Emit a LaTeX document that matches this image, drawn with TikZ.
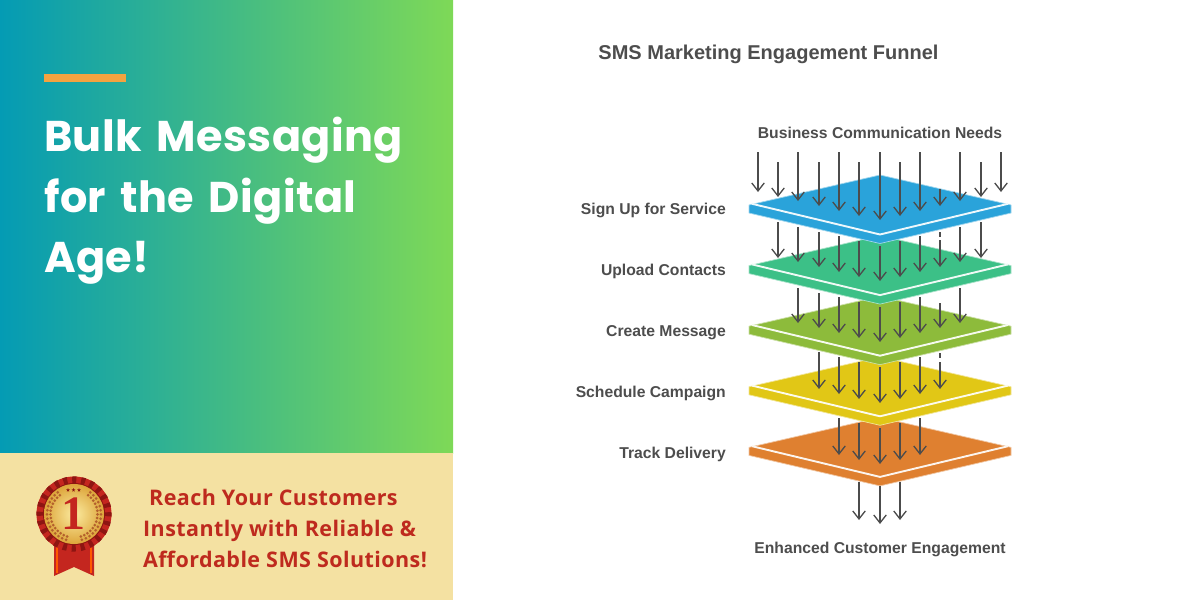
\documentclass[tikz,border=0pt]{standalone}
\usepackage{fontspec}
\usetikzlibrary{arrows.meta,shapes.geometric}
\setmainfont{Liberation Sans}
\newfontfamily\titlefont[LetterSpace=1,WordSpace=1.5]{Poppins}
\newfontfamily\promofont[LetterSpace=2]{Open Sans}
\newfontfamily\medalfont{Liberation Serif}
\definecolor{bluePlate}{HTML}{2AA3DA}
\definecolor{greenPlate}{HTML}{3CC087}
\definecolor{olivePlate}{HTML}{8DBB3B}
\definecolor{yellowPlate}{HTML}{E1C716}
\definecolor{orangePlate}{HTML}{DF8030}
\definecolor{panelTan}{HTML}{F4E1A2}
\definecolor{panelTeal}{HTML}{049BB4}
\definecolor{panelGreen}{HTML}{7ED957}
\definecolor{barOrange}{HTML}{F4A340}
\definecolor{redText}{HTML}{BE2A1E}
\definecolor{greyText}{HTML}{4D4D4D}
\definecolor{leafBrown}{HTML}{B4602C}
\definecolor{medalRed}{HTML}{C4261F}
\definecolor{medalDark}{HTML}{8E1512}
\definecolor{goldLight}{HTML}{FBEBA0}
\definecolor{goldDark}{HTML}{DDA53A}
\tikzset{
  flow/.style={draw=black!70, line width=1.3pt, -{Straight Barb[length=8pt,width=12.5pt,line width=1.3pt]}},
  stub/.style={draw=black!70, line width=1.3pt},
  lab/.style={font=\fontsize{15.7}{17}\selectfont\bfseries, text=greyText, inner sep=0pt, anchor=base},
  sidelab/.style={lab, anchor=base east},
  promo/.style={font=\promofont\fontsize{21.5}{22}\selectfont\bfseries, text=redText, anchor=base west, inner sep=0pt},
  headline/.style={font=\titlefont\fontsize{43}{46}\selectfont\bfseries, text=white, anchor=base west, inner sep=0pt},
}
\begin{document}
\begin{tikzpicture}[x=1pt, y=-1pt, line join=round]
\useasboundingbox (0,0) rectangle (1200,600);
\fill[white] (0,0) rectangle (1200,600);
\shade[left color=panelTeal, right color=panelGreen] (0,0) rectangle (453,453);
\fill[panelTan] (0,453) rectangle (453,600);
\fill[barOrange] (44,74) rectangle (126,82);
\node[headline] (head1) at (44,151) {Bulk Messaging};
\node[headline] (head2) at (44,212) {for the Digital};
\node[headline] (head3) at (44,272) {Age!};
\node[promo] (promo1) at (149,505.5) {Reach Your Customers};
\node[promo] (promo2) at (143,536.5) {Instantly with Reliable \&};
\node[promo] (promo3) at (143,567) {Affordable SMS Solutions!};
% ribbon
\fill[medalRed] (54,545) -- (94,545) -- (94,576) -- (74,567) -- (54,576) -- cycle;
\fill[orange!70!red] (56,545) rectangle (58,573);
\fill[orange!70!red] (90,545) rectangle (92,573);
% rosette
\fill[medalRed] (74,514) circle (37.5);
\foreach \a in {0,15,...,345} {
  \fill[medalDark] (74,514) -- ++(\a-3:37.5) -- ++(\a+87:4.5) -- cycle;
}
\fill[medalDark] (74,514) circle (31);
\shade[inner color=goldLight, outer color=goldDark] (74,514) circle (30);
% laurel
\foreach \a in {127,136,...,255} {
  \fill[leafBrown] (74,514) ++(-\a:23.5) circle (1.5);
  \fill[leafBrown] (74,514) ++(-\a:27) circle (1.5);
  \fill[leafBrown] (74,514) ++(\a-180:23.5) circle (1.5);
  \fill[leafBrown] (74,514) ++(\a-180:27) circle (1.5);
}
\foreach \x/\n in {68/a,73.5/b,79/c} {
  \node[star, star points=5, star point ratio=2.4, fill=medalDark, inner sep=0pt, minimum size=4pt] (star\n) at (\x,490) {};
}
\node[font=\medalfont\fontsize{48}{48}\selectfont\bfseries, text=medalRed, inner sep=0pt] (medalOne) at (73.5,514) {1};
% plates
\def\platestep{60.6}
\foreach \n/\col in {4/orangePlate,3/yellowPlate,2/olivePlate,1/greenPlate,0/bluePlate} {
  \begin{scope}[shift={(0,\n*\platestep)}]
  \draw[fill=\col, draw=\col!45!white, line width=0.7pt] (749,205) -- (880,175) -- (1011,205) -- (1011,213) -- (880,243.5) -- (749,213) -- cycle;
  \draw[draw=\col!8!white, line width=1.9pt] (752,203.8) -- (880,234.5) -- (1008,203.8);
  \end{scope}
}
% arrows
\foreach \x/\ya/\yb in {758/152/192,778/162/197,798/152/201,819/162/206,839/152/211,859/162/216,880/152/220,900/162/216,920/152/211,940/189/206,960/152/201,981/162/197,1001/152/192,
  778/222/258,798/227/262,819/232/267,839/236/272,859/241/277,880/246/281,900/241/277,920/236/272,940/240/267,960/227/262,981/222/258,
  798/288/323,819/293/328,839/297/333,859/302/338,880/307/342,900/302/338,920/297/333,940/303/328,960/288/323,
  819/352/389,839/357/394,859/362/399,880/367/403,900/362/399,920/357/394,940/362/389,
  839/418/455,859/423/460,880/428/464,900/423/460,920/418/455,
  859/482/520,880/486/524,900/482/520} {
  \coordinate (from) at (\x,\ya);
  \coordinate (to) at (\x,\yb);
  \draw[flow] (from) -- (to);
}
\draw[stub] (940,232) -- (940,236.5);
\draw[stub] (940,353) -- (940,358);
% labels
\node[lab, font=\fontsize{20}{22}\selectfont\bfseries] (funnelTitle) at (768.5,59) {SMS Marketing Engagement Funnel};
\node[lab] (needs) at (880,138) {Business Communication Needs};
\node[sidelab] (signup) at (726,214.5) {Sign Up for Service};
\node[sidelab] (upload) at (726,275.5) {Upload Contacts};
\node[sidelab] (create) at (726,336.5) {Create Message};
\node[sidelab] (schedule) at (726,397.5) {Schedule Campaign};
\node[sidelab] (track) at (726,458) {Track Delivery};
\node[lab] (enhanced) at (880,553) {Enhanced Customer Engagement};
\end{tikzpicture}
\end{document}
